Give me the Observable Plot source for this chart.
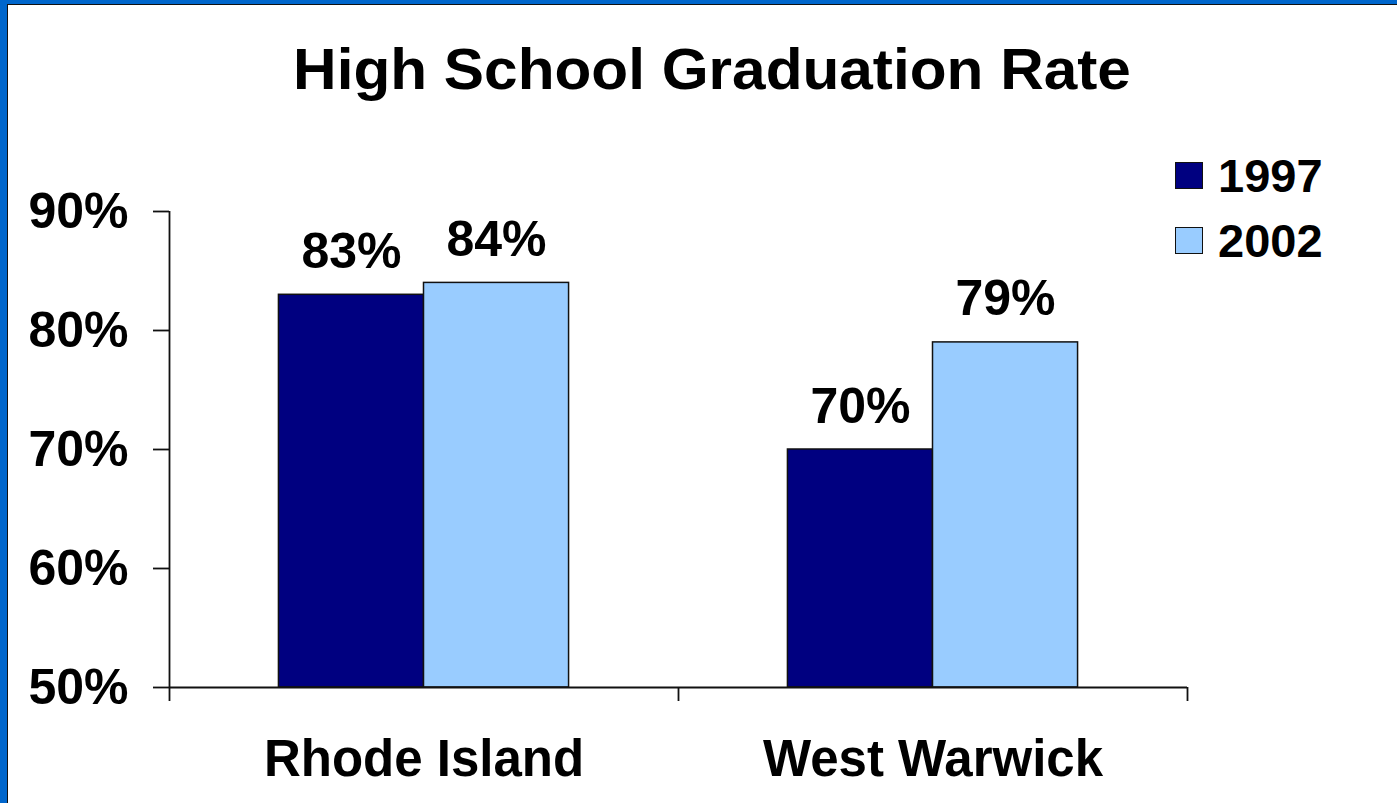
<!DOCTYPE html>
<html>
<head>
<meta charset="utf-8">
<script src="https://cdn.jsdelivr.net/npm/d3@7"></script>
<script src="https://cdn.jsdelivr.net/npm/@observablehq/plot@0.6"></script>
<style>
  html, body { margin: 0; padding: 0; width: 1397px; height: 803px; overflow: hidden; background: #0066CC; }
  #panel { position: absolute; left: 7px; top: 4px; width: 1400px; height: 810px; background: #fff;
           border-left: 1.5px solid #111; border-top: 1.5px solid #111; font-family: "Liberation Sans", Arial, sans-serif; }
  #title { position: absolute; top: 35px; left: 704px; transform: translateX(-50%) scaleX(1.04); white-space: nowrap;
           font-size: 58px; font-weight: bold; line-height: 1; color: #000; }
  #legend { position: absolute; left: 1167px; top: 147px; }
  .row { display: flex; align-items: center; height: 46px; margin-bottom: 19px; font-size: 47px; font-weight: bold; line-height: 1; }
  .sw { width: 28px; height: 27px; border: 1.5px solid #111; margin-right: 15px; box-sizing: border-box; }
  #chart { position: absolute; left: 0; top: 0; }
</style>
</head>
<body>
<div id="panel">
  <div id="chart"></div>
  <div id="title">High School Graduation Rate</div>
  <div id="legend"></div>
</div>
<script>
const regions = ["Rhode Island", "West Warwick"];
const years = ["1997", "2002"];
const values1997 = [0.83, 0.70];
const values2002 = [0.84, 0.79];
const colors = ["#000080", "#99CCFF"];
const yTicks = [0.5, 0.6, 0.7, 0.8, 0.9];

const series = [values1997, values2002];
const rows = [];
regions.forEach((r, i) => years.forEach((yr, j) => rows.push({region: r, year: yr, value: series[j][i], i, j})));

const barW = 0.285, groupStart = 0.215;
const x1 = d => d.i + groupStart + d.j * barW;
const x2 = d => d.i + groupStart + (d.j + 1) * barW;

const font = '"Liberation Sans", Arial, sans-serif';

const chart = Plot.plot({
  width: 1389,
  height: 798,
  marginLeft: 161,
  marginRight: 210,
  marginTop: 206,
  marginBottom: 116,
  style: {fontFamily: font, fontWeight: "bold", color: "#000", background: "transparent", overflow: "visible"},
  x: {type: "linear", domain: [0, regions.length], axis: null},
  y: {domain: [0.5, 0.9], axis: null},
  color: {domain: years, range: colors},
  marks: [
    Plot.rectY(rows, {x1, x2, y1: 0.5, y2: "value", fill: d => colors[d.j], stroke: "#111", strokeWidth: 1.5}),
    Plot.ruleY([0.5], {stroke: "#111", strokeWidth: 1.8}),
    Plot.ruleX([0], {stroke: "#111", strokeWidth: 1.8}),
    Plot.axisY({ticks: yTicks, tickSize: 16, tickPadding: 25, tickFormat: d3.format(".0%"), label: null,
                fontSize: 50, fontWeight: "bold", stroke: "#111", strokeWidth: 1.8}),
    Plot.axisX({ticks: d3.range(regions.length + 1), tickSize: 14, tickFormat: () => "", label: null, stroke: "#111", strokeWidth: 1.8}),
    Plot.text(regions, {x: (d, i) => i + 0.5, text: d => d, frameAnchor: "bottom", dy: 72, lineAnchor: "middle",
                        fontSize: 51, fontWeight: "bold", fill: "#000"}),
    Plot.text(rows, {x: d => (x1(d) + x2(d)) / 2, y: "value", text: d => d3.format(".0%")(d.value), dy: -43, lineAnchor: "middle",
                     fontSize: 50, fontWeight: "bold", fill: "#000"})
  ]
});
document.getElementById("chart").appendChild(chart);

const legend = document.getElementById("legend");
years.forEach((yr, j) => {
  const row = document.createElement("div");
  row.className = "row";
  const sw = document.createElement("div");
  sw.className = "sw";
  sw.style.background = colors[j];
  const t = document.createElement("span");
  t.textContent = yr;
  row.appendChild(sw); row.appendChild(t);
  legend.appendChild(row);
});
</script>
</body>
</html>
